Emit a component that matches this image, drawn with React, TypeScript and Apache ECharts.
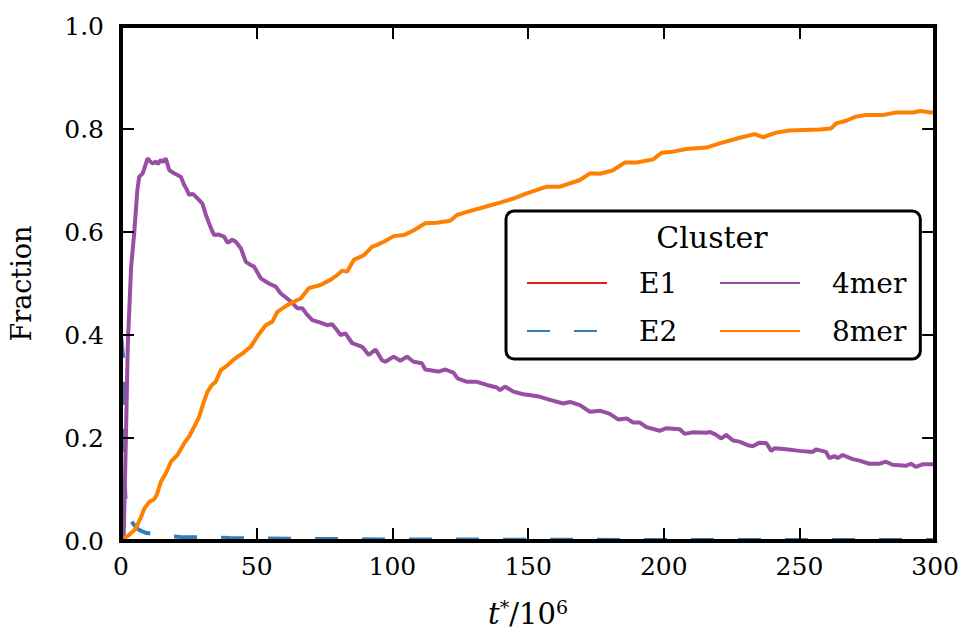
import React, { useEffect, useRef } from 'react';
import * as echarts from 'echarts';

// Fraction of each cluster type versus reduced time t*/10^6
const seriesNames = ['E1', 'E2', '4mer', '8mer'];
const seriesColors = ['#e41a1c', '#377eb8', '#984ea3', '#ff7f00'];

const xTickStep = 50;
const xRange = [0, 300];
const yTickStep = 0.2;
const yRange = [0, 1];

const e1Points: [number, number][] = [
  [0, 0.004], [0.5, 0.001], [1, 0], [300, 0],
];

const e2Points: [number, number][] = [
  [0, 0.4], [0.9, 0.35], [1.0, 0.3], [1.1, 0.2], [1.3, 0.12], [1.8, 0.067],
  [2.5, 0.055], [3.5, 0.04], [4.9, 0.031], [6.5, 0.022], [9, 0.016], [13.5, 0.012],
  [18, 0.009], [22, 0.008], [30, 0.007], [40, 0.006], [52, 0.005], [70, 0.004],
  [100, 0.003], [150, 0.0025], [200, 0.002], [300, 0.002],
];

const tetramerPoints: [number, number][] = [
  [0, 0], [1, 0.01], [1.8, 0.2], [2.5, 0.38], [3.7, 0.53], [4.9, 0.6], [6.0, 0.68],
  [6.7, 0.707], [8.0, 0.714], [9.0, 0.73], [9.8, 0.743], [10.8, 0.737], [11.7, 0.733],
  [12.9, 0.737], [13.6, 0.732], [14.7, 0.74], [15.5, 0.736], [16.5, 0.743], [17.8, 0.72],
  [19.6, 0.714], [22.1, 0.707], [23.3, 0.691], [24.0, 0.685], [25.1, 0.672], [26.5, 0.674],
  [28.8, 0.662], [30.0, 0.655], [31.3, 0.633], [33.1, 0.608], [34.3, 0.594], [36.0, 0.595],
  [38.0, 0.591], [39.3, 0.579], [41.0, 0.585], [42.3, 0.581], [44.2, 0.568], [46.0, 0.542],
  [47.8, 0.536], [49.0, 0.533], [51.5, 0.51], [54.5, 0.5], [57.0, 0.494], [58.8, 0.481],
  [61.9, 0.468], [63.5, 0.46], [65.0, 0.452], [66.8, 0.452], [68.5, 0.44], [70.5, 0.429],
  [73.5, 0.424], [76.0, 0.419], [77.8, 0.421], [79.5, 0.41], [80.9, 0.4], [82.7, 0.403],
  [85.2, 0.384], [88.9, 0.377], [91.3, 0.361], [93.8, 0.372], [96.2, 0.351], [97.4, 0.348],
  [100.5, 0.358], [102.9, 0.35], [105.4, 0.358], [107.8, 0.348], [110.9, 0.345],
  [112.1, 0.333], [117.0, 0.329], [119.5, 0.333], [122.5, 0.327], [124.0, 0.316],
  [127.5, 0.309], [131.1, 0.309], [134.8, 0.303], [138.5, 0.298], [139.7, 0.293],
  [141.5, 0.3], [144.6, 0.29], [148.3, 0.285], [151.0, 0.283], [154.4, 0.28], [158.1, 0.274],
  [163.0, 0.267], [165.4, 0.27], [169.1, 0.264], [172.8, 0.251], [176.5, 0.253],
  [180.1, 0.247], [183.2, 0.236], [186.3, 0.238], [188.7, 0.23], [191.2, 0.23],
  [193.6, 0.221], [198.5, 0.214], [201.0, 0.219], [205.9, 0.217], [207.7, 0.208],
  [210.8, 0.211], [215.7, 0.21], [216.9, 0.212], [219.0, 0.207], [221.2, 0.199],
  [223.0, 0.206], [225.5, 0.195], [227.9, 0.193], [231.0, 0.186], [232.8, 0.184],
  [235.3, 0.191], [237.8, 0.19], [239.6, 0.175], [240.8, 0.18], [245.1, 0.178],
  [250.0, 0.175], [254.9, 0.173], [256.1, 0.178], [259.8, 0.173], [261.0, 0.161],
  [262.9, 0.165], [264.1, 0.161], [265.9, 0.167], [269.6, 0.159], [272.1, 0.156],
  [275.7, 0.15], [279.4, 0.15], [281.9, 0.154], [284.3, 0.148], [289.2, 0.146],
  [291.1, 0.15], [292.9, 0.144], [295.4, 0.149], [300, 0.149],
];

const octamerPoints: [number, number][] = [
  [0, 0], [1.2, 0.005], [3, 0.012], [4.9, 0.021], [5.5, 0.025], [7.4, 0.047], [8.6, 0.063],
  [10.4, 0.076], [12.2, 0.081], [13.2, 0.09], [14.7, 0.115], [16.5, 0.131], [18.4, 0.154],
  [20.8, 0.167], [23.3, 0.19], [25.1, 0.203], [27, 0.222], [28.8, 0.241], [30.5, 0.27],
  [31.9, 0.29], [33.5, 0.303], [34.9, 0.309], [36.8, 0.332], [39, 0.34], [41, 0.35],
  [43, 0.358], [45, 0.365], [46.5, 0.372], [47.8, 0.377], [50.2, 0.397], [53.3, 0.419],
  [55.8, 0.426], [57.6, 0.445], [61.3, 0.458], [63.8, 0.465], [66.2, 0.471], [69.2, 0.491],
  [73.5, 0.497], [77.2, 0.507], [79.8, 0.517], [81.5, 0.525], [83.3, 0.523], [85.8, 0.546],
  [89.5, 0.555], [92.5, 0.571], [94.4, 0.575], [96.8, 0.581], [100.5, 0.592], [104.2, 0.594],
  [107.8, 0.603], [112.1, 0.617], [116.4, 0.618], [121.3, 0.622], [123.8, 0.633],
  [127.5, 0.639], [133.6, 0.648], [139.7, 0.657], [144.6, 0.665], [149.5, 0.675],
  [156.9, 0.688], [161.8, 0.688], [169.1, 0.701], [172.8, 0.714], [176.5, 0.713],
  [181.4, 0.72], [185.7, 0.735], [190.0, 0.735], [196.1, 0.741], [199.2, 0.754],
  [203.4, 0.756], [208.3, 0.761], [215.7, 0.764], [220.6, 0.772], [228, 0.783],
  [233.5, 0.79], [236.5, 0.784], [241.4, 0.793], [246.3, 0.797], [251.2, 0.798],
  [257.4, 0.799], [261.7, 0.801], [263.5, 0.811], [267.2, 0.816], [270.8, 0.824],
  [274.5, 0.827], [280.6, 0.827], [285.5, 0.832], [291.7, 0.832], [294.7, 0.835],
  [298.4, 0.832], [300, 0.833],
];

const seriesPoints = [e1Points, e2Points, tetramerPoints, octamerPoints];

const SERIF = 'DejaVu Serif';

export default function App() {
  const ref = useRef<HTMLDivElement>(null);

  useEffect(() => {
    if (!ref.current) return;
    const chart = echarts.init(ref.current, undefined, { renderer: 'svg' });

    const frameLine = { color: '#000', width: 4, cap: 'square' as const };
    const tick = { show: true, inside: true, length: 13, lineStyle: { color: '#000', width: 2 } };

    const xBase = {
      type: 'value' as const,
      min: xRange[0],
      max: xRange[1],
      interval: xTickStep,
      splitLine: { show: false },
      axisLine: { show: true, onZero: false, lineStyle: frameLine },
      axisTick: tick,
      z: 10,
    };
    const yBase = {
      type: 'value' as const,
      min: yRange[0],
      max: yRange[1],
      interval: yTickStep,
      splitLine: { show: false },
      axisLine: { show: true, onZero: false, lineStyle: frameLine },
      axisTick: tick,
      z: 10,
    };

    chart.setOption({
      animation: false,
      backgroundColor: '#fff',
      textStyle: { fontFamily: SERIF },
      grid: { left: 120, right: 26, top: 26, bottom: 96, containLabel: false },
      xAxis: [
        {
          ...xBase,
          position: 'bottom',
          axisLabel: { color: '#000', fontFamily: SERIF, fontSize: 25, margin: 13 },
          name: '{i|t}{s|*}{n|/10}{s|6}',
          nameLocation: 'middle',
          nameGap: 56,
          nameTextStyle: {
            color: '#000',
            fontFamily: SERIF,
            rich: {
              i: { fontStyle: 'italic', fontSize: 29, fontFamily: SERIF, color: '#000', lineHeight: 34 },
              n: { fontSize: 29, fontFamily: SERIF, color: '#000', lineHeight: 34 },
              s: { fontSize: 19, fontFamily: SERIF, color: '#000', lineHeight: 18, verticalAlign: 'top' },
            },
          },
        },
        { ...xBase, position: 'top', axisLabel: { show: false } },
      ],
      yAxis: [
        {
          ...yBase,
          position: 'left',
          axisLabel: {
            color: '#000',
            fontFamily: SERIF,
            fontSize: 25,
            margin: 17,
            formatter: (v: number) => v.toFixed(1),
          },
          name: 'Fraction',
          nameLocation: 'middle',
          nameGap: 86,
          nameTextStyle: { color: '#000', fontFamily: SERIF, fontSize: 27 },
        },
        { ...yBase, position: 'right', axisLabel: { show: false } },
      ],
      legend: {
        data: ['E1', '4mer', 'E2', '8mer'],
        orient: 'horizontal',
        left: 506,
        top: 211,
        width: 450,
        itemWidth: 80,
        itemHeight: 25,
        itemGap: 20,
        padding: [58, 14, 14, 20],
        borderColor: '#000',
        borderWidth: 3,
        borderRadius: 8,
        backgroundColor: '#fff',
        selectedMode: false,
        itemStyle: { opacity: 0 },
        textStyle: {
          color: '#000',
          fontFamily: SERIF,
          fontSize: 28,
          lineHeight: 25,
          width: 60,
          overflow: 'none',
          padding: [0, 0, 0, 27],
        },
      },
      graphic: [
        {
          type: 'text',
          x: 712,
          y: 237,
          z: 100,
          style: {
            text: 'Cluster',
            fill: '#000',
            fontFamily: SERIF,
            fontSize: 30,
            textAlign: 'center',
            textVerticalAlign: 'middle',
          },
        },
      ],
      series: seriesNames.map((name, i) => ({
        name,
        type: 'line',
        xAxisIndex: 0,
        yAxisIndex: 0,
        data: seriesPoints[i],
        showSymbol: false,
        symbol: 'none',
        color: seriesColors[i],
        lineStyle: {
          color: seriesColors[i],
          width: 4,
          type: name === 'E2' ? [23, 24] : 'solid',
        },
        z: 2 + i,
      })),
    });

    return () => chart.dispose();
  }, []);

  return (
    <div
      ref={ref}
      style={{ position: 'fixed', left: 0, top: 0, width: 962, height: 637 }}
    />
  );
}
